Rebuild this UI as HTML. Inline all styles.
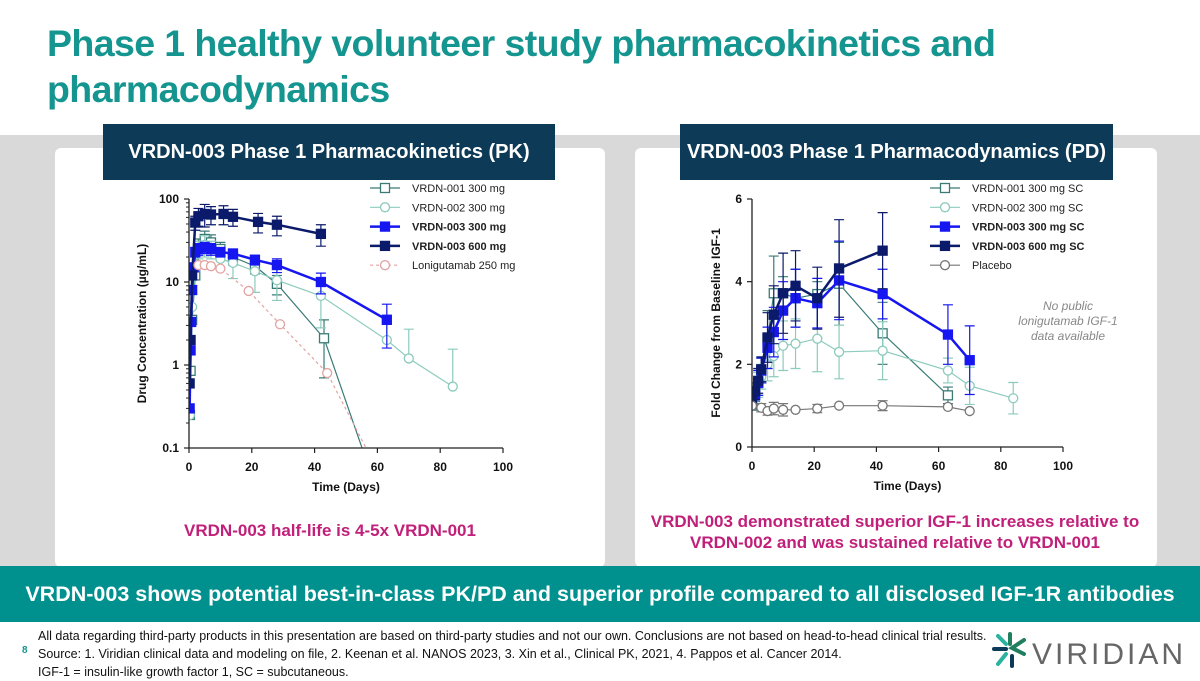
<!DOCTYPE html>
<html><head><meta charset="utf-8">
<style>
body{margin:0;width:1200px;height:675px;position:relative;overflow:hidden;background:#fff;font-family:"Liberation Sans",sans-serif}
.abs{position:absolute}
h1{position:absolute;left:47px;top:20px;margin:0;font-size:37.5px;line-height:46px;color:#14958f;font-weight:bold;letter-spacing:-0.6px}
.hdr{position:absolute;top:124px;height:56px;background:#0d3b57;color:#fff;font-weight:bold;font-size:20px;display:flex;align-items:center;justify-content:center}
.pink{color:#c1207a;font-weight:bold;font-size:17px;text-align:center}
.foot{font-size:12.5px;color:#111;line-height:18px}
</style></head><body>
<h1>Phase 1 healthy volunteer study pharmacokinetics and<br>pharmacodynamics</h1>
<div class="abs" style="left:0;top:135px;width:1200px;height:432px;background:#d9d9d9"></div>
<div class="abs" style="left:55px;top:148px;width:550px;height:419px;background:#fff;border-radius:6px"></div>
<div class="abs" style="left:635px;top:148px;width:522px;height:419px;background:#fff;border-radius:6px"></div>
<div class="hdr" style="left:103px;width:452px">VRDN-003 Phase 1 Pharmacokinetics (PK)</div>
<div class="hdr" style="left:680px;width:433px">VRDN-003 Phase 1 Pharmacodynamics (PD)</div>
<svg class="abs" id="pk" style="left:0;top:0" width="600" height="500"></svg>
<svg class="abs" id="pd" style="left:600px;top:0" width="600" height="500"></svg>
<div class="abs pink" style="left:130px;top:521px;width:400px">VRDN-003 half-life is 4-5x VRDN-001</div>
<div class="abs pink" style="left:640px;top:511px;width:510px;line-height:21px">VRDN-003 demonstrated superior IGF-1 increases relative to<br>VRDN-002 and was sustained relative to VRDN-001</div>
<div class="abs" style="left:0;top:566px;width:1200px;height:56px;background:#00918e;color:#fff;font-weight:bold;font-size:21.5px;display:flex;align-items:center;justify-content:center;white-space:nowrap">VRDN-003 shows potential best-in-class PK/PD and superior profile compared to all disclosed IGF-1R antibodies</div>
<div class="abs" style="left:22px;top:645px;font-size:10px;color:#14958f;font-weight:bold">8</div>
<div class="abs foot" style="left:38px;top:627px">All data regarding third-party products in this presentation are based on third-party studies and not our own. Conclusions are not based on head-to-head clinical trial results.<br>Source: 1. Viridian clinical data and modeling on file, 2. Keenan et al. NANOS 2023, 3. Xin et al., Clinical PK, 2021, 4. Pappos et al. Cancer 2014.<br>IGF-1 = insulin-like growth factor 1, SC = subcutaneous.</div>
<svg class="abs" style="left:990px;top:632px" width="200" height="40">
<g stroke-width="4" fill="none" stroke-linecap="round">
<path d="M8 4 L16 12" stroke="#2bb3a0"/><path d="M20 2 L20 12" stroke="#1f7f5f"/><path d="M34 8 L22 16 L34 22" stroke="#1f7f5f"/><path d="M4 17 L16 17" stroke="#0d3b57"/><path d="M8 32 L16 22" stroke="#2bb3a0"/><path d="M22 34 L22 24" stroke="#0d3b57"/></g>
<text x="42" y="32" font-size="30" fill="#666" font-family="Liberation Sans" letter-spacing="3">VIRIDIAN</text></svg>
<script>
// ---- PK data (days, µg/mL) ----
const pkNames=["VRDN-001 300 mg","VRDN-002 300 mg","VRDN-003 300 mg","VRDN-003 600 mg","Lonigutamab 250 mg"];
const pk001x=[0.3,0.5,1,2,3,5,7,10,14,21,28,43,56];
const pk001y=[0.25,0.85,3.5,12,25,33,30,25,20,15.5,9.5,2.1,0.08];
const pk001e=[0,0,0,0,8,8,7,5,4,3,2.5,1.4,0];
const pk002x=[0.3,1,2,3,5,7,10,14,21,28,42,63,70,84];
const pk002y=[0.25,5,15,25,28,25,19,17,13.5,10.5,6.8,2,1.2,0.55];
const pk002e=[0,0,0,6,8,6,5,6,6,4.5,4,2,1.5,1];
const pk003ax=[0.2,0.5,0.7,1,1.5,2,3,5,7,10,14,21,28,42,63];
const pk003ay=[0.3,1.5,3.3,8,15,23,25,26,25,23,22,18.5,16,10,3.5];
const pk003ae=[0,0,0,0,0,3,4,4,4,3,3,2.5,3,2.8,1.9];
const pk003bx=[0.2,0.5,1,2,3,5,7,11,14,22,28,42];
const pk003by=[0.6,2,12,52,62,66,65,66,61,53,49,38];
const pk003be=[0,0,0,10,15,20,16,17,14,14,13,11];
const pkLx=[3,5,7,10,19,29,44,57];
const pkLy=[16,16,15.5,14.5,7.8,3.1,0.8,0.09];
const pkLe=[0,0,0,0,0,0,0,0];
const pkXTicks=[0,20,40,60,80,100];
const pkYTicks=[0.1,1,10,100];
const pkYLabels=["0.1","1","10","100"];
// ---- PD data (days, fold change) ----
const pdNames=["VRDN-001 300 mg SC","VRDN-002 300 mg SC","VRDN-003 300 mg SC","VRDN-003 600 mg SC","Placebo"];
const pd001x=[0,1,2,3,5,7,10,14,21,28,42,63];
const pd001y=[1.0,1.3,1.55,1.85,2.6,3.72,3.72,3.6,3.7,3.95,2.75,1.25];
const pd001e=[0,0.2,0.3,0.3,0.7,0.9,0.4,0.7,0.3,1.0,0.75,0.2];
const pd002x=[0,1,2,3,5,7,10,14,21,28,42,63,70,84];
const pd002y=[1,1.2,1.5,1.7,2.0,2.2,2.45,2.5,2.62,2.3,2.33,1.85,1.48,1.18];
const pd002e=[0,0.2,0.3,0.3,0.4,0.5,0.6,0.6,0.8,0.65,0.7,0.3,0.45,0.38];
const pd003ax=[0,1,2,3,5,7,10,14,21,28,42,63,70];
const pd003ay=[1.05,1.25,1.55,1.85,2.4,2.78,3.3,3.6,3.48,4.03,3.7,2.72,2.1];
const pd003ae=[0,0.2,0.3,0.3,0.5,0.6,0.7,0.7,0.6,0.95,0.6,0.72,0.83];
const pd003bx=[0,1,2,3,5,7,10,14,21,28,42];
const pd003by=[1.1,1.35,1.6,1.88,2.65,3.2,3.72,3.9,3.6,4.32,4.75];
const pd003be=[0,0.2,0.3,0.3,0.6,0.7,0.97,0.85,0.75,1.18,0.92];
const pdPx=[0,3,5,7,10,14,21,28,42,63,70];
const pdPy=[1.0,0.95,0.87,0.93,0.9,0.9,0.93,1.0,1.0,0.97,0.87];
const pdPe=[0,0.1,0.1,0.15,0.15,0,0.1,0,0.12,0,0];
const pdXTicks=[0,20,40,60,80,100];
const pdYTicks=[0,2,4,6];

const NS="http://www.w3.org/2000/svg";
function mk(svg,tag,attrs,txt){const e=document.createElementNS(NS,tag);for(const k in attrs)e.setAttribute(k,attrs[k]);if(txt!==undefined)e.textContent=txt;svg.appendChild(e);return e;}

const baseStyles=[
 {c:"#3a7b76",m:"sq",fill:"#fff",w:1.2,dash:null,bold:false,ms:9},
 {c:"#8ccbbd",m:"ci",fill:"#fff",w:1.2,dash:null,bold:false,ms:9},
 {c:"#1616f0",m:"sq",fill:"#1616f0",w:2.5,dash:null,bold:true,ms:9},
 {c:"#0b1a6b",m:"sq",fill:"#0b1a6b",w:2.5,dash:null,bold:true,ms:9}
];
const pkStyles=baseStyles.concat([{c:"#e3a3a3",m:"ci",fill:"#fff",w:1.2,dash:"3,3",bold:false,ms:9}]);
const pdStyles=baseStyles.concat([{c:"#777",m:"ci",fill:"#fff",w:1.2,dash:null,bold:false,ms:9}]);

function marker(svg,name,x,y,s){
  const r=s.ms/2;
  let e;
  if(s.m==="sq") e=mk(svg,"rect",{x:x-r,y:y-r,width:s.ms,height:s.ms,fill:s.fill,stroke:s.c,"stroke-width":1.3});
  else e=mk(svg,"circle",{cx:x,cy:y,r:r,fill:s.fill,stroke:s.c,"stroke-width":1.3});
  
  
}

function drawChart(svg,cfg){
  const {X,Y,x0,x1,y0,y1}=cfg;
  svg.insertAdjacentHTML('beforeend',`<defs><clipPath id="${cfg.id}clip"><rect x="${x0}" y="${y1-3}" width="${x1-x0+10}" height="${y0-y1+3}"/></clipPath></defs>`);
  const g=mk(svg,"g",{"clip-path":`url(#${cfg.id}clip)`});
  cfg.series.forEach((sr,i)=>{
    const s=cfg.styles[i];
    sr.x.forEach((xv,j)=>{
      const e=sr.e[j]; if(!e) return;
      const px=X(xv), py=Y(sr.y[j]), yt=Y(sr.y[j]+e);
      const lo=sr.y[j]-e;
      let d=`M${px} ${yt}V${py}M${px-5} ${yt}h10`;
      if(!cfg.log || lo>0){const yb=Y(lo); d+=`M${px} ${py}V${yb}M${px-5} ${yb}h10`;}
      const eb=mk(g,"path",{d,stroke:s.c,"stroke-width":1.2,fill:"none"});
      
      
    });
    const d=sr.x.map((xv,j)=>(j?"L":"M")+X(xv)+" "+Y(sr.y[j])).join("");
    const ln=mk(g,"path",{d,stroke:s.c,"stroke-width":s.w,fill:"none","stroke-dasharray":s.dash||"none"});
    
    
    sr.x.forEach((xv,j)=>{const py=Y(sr.y[j]); if(py<=y0+2) marker(g,'data-point',X(xv),py,s);});
    const ly=cfg.legY+i*19.3;
    const ll=mk(svg,"path",{d:`M${cfg.legX} ${ly}h30`,stroke:s.c,"stroke-width":s.w,"stroke-dasharray":s.dash||"none"});
    
    
    marker(svg,'legend-marker',cfg.legX+15,ly,s);
    const lt=mk(svg,"text",{x:cfg.legX+42,y:ly+4,"font-size":11,fill:"#222","font-weight":s.bold?"bold":"normal"},cfg.names[i]);
    
    
  });
  const ax=mk(svg,"path",{d:`M${x0} ${y1}V${y0}H${x1}`,stroke:"#222","stroke-width":1.3,fill:"none"});
  
  
  cfg.xt.forEach(v=>{
    mk(svg,"path",{d:`M${X(v)} ${y0}v5`,stroke:"#222","stroke-width":1.2});
    const t=mk(svg,"text",{x:X(v),y:y0+23,"font-size":12,"font-weight":"bold","text-anchor":"middle",fill:"#111"},String(v));
    
    
  });
  cfg.yt.forEach((v,k)=>{
    mk(svg,"path",{d:`M${x0-5} ${Y(v)}h5`,stroke:"#222","stroke-width":1.2});
    const t=mk(svg,"text",{x:x0-10,y:Y(v)+4,"font-size":12,"font-weight":"bold","text-anchor":"end",fill:"#111"},cfg.yl[k]);
    
    
  });
  if(cfg.log){
    for(let d=0.1;d<100;d*=10) for(let m=2;m<10;m++){mk(svg,"path",{d:`M${x0-3} ${Y(d*m)}h3`,stroke:"#222","stroke-width":1});}
  }
  const xt=mk(svg,"text",{x:(x0+x1)/2,y:y0+43,"font-size":12,"font-weight":"bold","text-anchor":"middle",fill:"#111"},"Time (Days)");
  
  
  const yt=mk(svg,"text",{x:0,y:0,"font-size":12,"font-weight":"bold","text-anchor":"middle",fill:"#111",transform:`translate(${cfg.ytX},${(y0+y1)/2}) rotate(-90)`},cfg.yTitle);
  
  
}

(function(){
  const x0=189,x1=503,y0=448,y1=199;
  const X=v=>x0+(x1-x0)*v/100;
  const Y=v=>y0-(y0-y1)*(Math.log10(v)+1)/3;
  drawChart(document.getElementById('pk'),{id:"pk",X,Y,x0,x1,y0,y1,log:true,xt:pkXTicks,yt:pkYTicks,yl:pkYLabels,styles:pkStyles,
    legX:370,legY:188,names:pkNames,ytX:146,yTitle:"Drug Concentration (µg/mL)",
    series:[{x:pk001x,y:pk001y,e:pk001e},{x:pk002x,y:pk002y,e:pk002e},{x:pk003ax,y:pk003ay,e:pk003ae},{x:pk003bx,y:pk003by,e:pk003be},{x:pkLx,y:pkLy,e:pkLe}]});
})();
(function(){
  const x0=152,x1=463,y0=447,y1=199;
  const X=v=>x0+(x1-x0)*v/100;
  const Y=v=>y0-(y0-y1)*v/6;
  const svg=document.getElementById('pd');
  drawChart(svg,{id:"pd",X,Y,x0,x1,y0,y1,log:false,xt:pdXTicks,yt:pdYTicks,yl:pdYTicks.map(String),styles:pdStyles,
    legX:330,legY:188,names:pdNames,ytX:120,yTitle:"Fold Change from Baseline IGF-1",
    series:[{x:pd001x,y:pd001y,e:pd001e},{x:pd002x,y:pd002y,e:pd002e},{x:pd003ax,y:pd003ay,e:pd003ae},{x:pd003bx,y:pd003by,e:pd003be},{x:pdPx,y:pdPy,e:pdPe}]});
  const n=mk(svg,"text",{x:468,y:310,"font-size":12,"font-style":"italic",fill:"#888","text-anchor":"middle"});
  
  
  ["No public","lonigutamab IGF-1","data available"].forEach((s,i)=>mk(n,"tspan",{x:468,dy:i?15:0},s));
})();
</script>
</body></html>
